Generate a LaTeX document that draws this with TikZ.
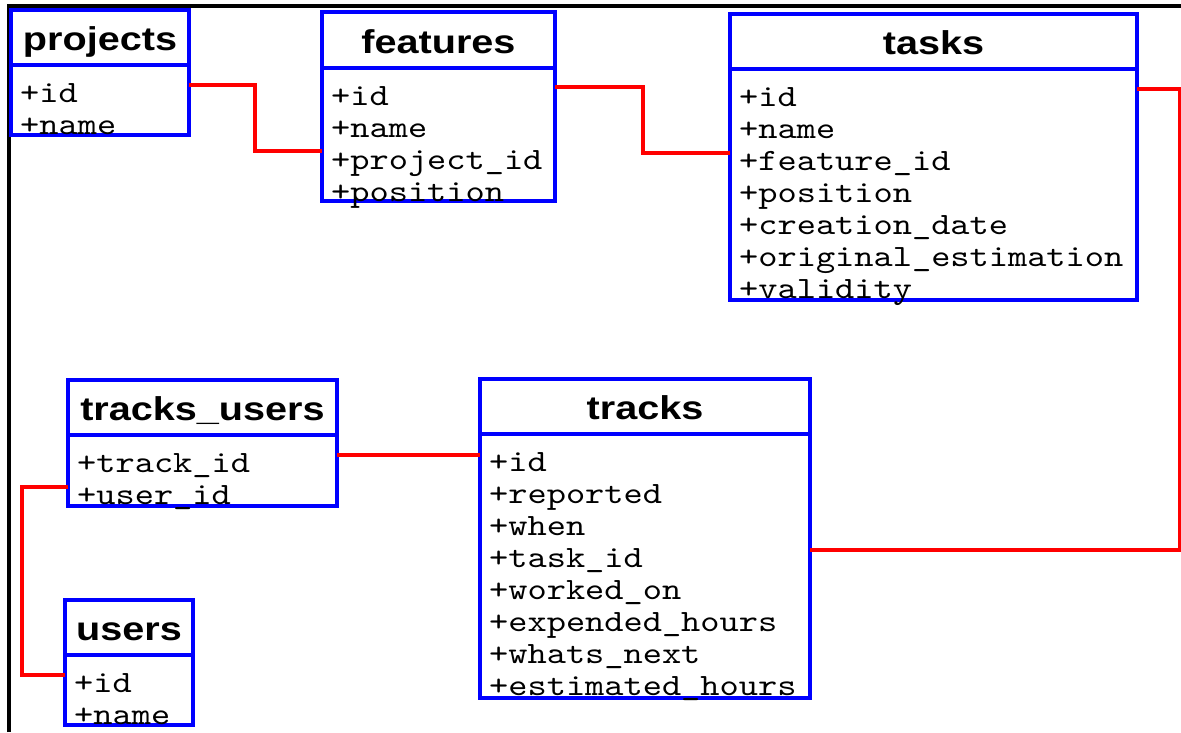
\documentclass[tikz,border=0pt]{standalone}
\usepackage{fontspec}
\newfontfamily\titlefont[FakeStretch=1.2]{Liberation Sans}
\newfontfamily\rowfont[FakeStretch=1.18]{lmmono10-regular.otf}
\definecolor{umlblue}{RGB}{0,0,255}
\definecolor{linkred}{RGB}{255,0,0}
\tikzset{
  tablebox/.style={draw=umlblue, fill=white, line width=3.5pt, inner sep=0pt, outer sep=0pt, rectangle},
  tableline/.style={draw=umlblue, line width=3.5pt},
  titletext/.style={inner sep=0pt, font=\titlefont\bfseries\fontsize{33}{36}\selectfont},
  rowtext/.style={inner sep=0pt, font=\rowfont\fontsize{31}{32}\selectfont},
  link/.style={draw=linkred, line width=3.5pt},
  frameline/.style={draw=black, line width=4pt}
}
% \dbtable{name}{left}{top}{right}{bottom}{header line y}{title}{attribute rows}
\newcommand\dbtable[8]{%
  \node[tablebox, anchor=north west, minimum width={#4-#2}, minimum height={#5-#3}] (#1) at (#2,#3) {};
  \draw[tableline] (#1.west |- 0,#6) -- (#1.east |- 0,#6);
  \node[titletext, anchor=base] (#1-title) at ({(#2+#4)/2},{#6-15}) {#7};
  \foreach \r [count=\i from 0] in {#8} {
    \node[rowtext, anchor=base west] (#1-row\i) at ({#2+9},{#6+37+32*\i}) {\r};
  }
}
\begin{document}
\begin{tikzpicture}[x=1pt,y=-1pt]
  \useasboundingbox (0,0) rectangle (1181,732);
  \fill[white] (0,0) rectangle (1181,732);
  % frame edges
  \draw[frameline] (8.5,732) -- (8.5,6) -- (1181,6);

  % tables
  \dbtable{projects}{11}{10}{189}{135}{65}{projects}{+id,+name}
  \dbtable{features}{322}{12}{555}{201}{68}{features}{+id,+name,+project\_id,+position}
  \dbtable{tasks}{730}{14}{1137}{300}{69}{tasks}{+id,+name,+feature\_id,+position,+creation\_date,+original\_estimation,+validity}
  \dbtable{trackusers}{68}{380}{337}{506}{435}{tracks\_users}{+track\_id,+user\_id}
  \dbtable{users}{65}{600}{193}{725}{655}{users}{+id,+name}
  \dbtable{tracks}{480}{379}{810}{698}{434}{tracks}{+id,+reported,+when,+task\_id,+worked\_on,+expended\_hours,+whats\_next,+estimated\_hours}

  % relations
  \draw[link] (projects.east |- 0,85) -| (255,151) -- (features.west |- 0,151);
  \draw[link] (features.east |- 0,87) -| (643,153) -- (tasks.west |- 0,153);
  \draw[link] (tasks.east |- 0,89) -| (1179.5,550) -- (tracks.east |- 0,550);
  \draw[link] (trackusers.east |- 0,455) -- (tracks.west |- 0,455);
  \draw[link] (trackusers.west |- 0,487) -| (22,675) -- (users.west |- 0,675);
\end{tikzpicture}
\end{document}
